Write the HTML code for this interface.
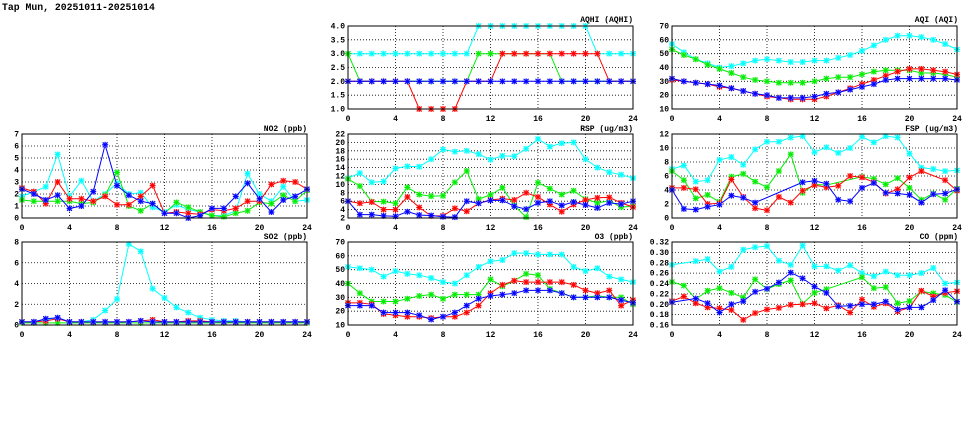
<!DOCTYPE html>
<html><head><meta charset="utf-8">
<style>
html,body{margin:0;padding:0;background:#fff;}
svg{display:block;}
text{font-family:"Liberation Mono",monospace;font-weight:bold;font-size:8px;fill:#000;}
</style></head>
<body>
<svg id="s" width="975" height="447" viewBox="0 0 975 447" xmlns="http://www.w3.org/2000/svg">
<rect width="975" height="447" fill="#fff"/>
<text x="2" y="10" style="font-size:9.8px">Tap Mun, 20251011-20251014</text>
<g id="g"></g>
<text x="633" y="22" text-anchor="end">AQHI (AQHI)</text>
<text x="958" y="22" text-anchor="end">AQI (AQI)</text>
<text x="307" y="131" text-anchor="end">NO2 (ppb)</text>
<text x="633" y="131" text-anchor="end">RSP (ug/m3)</text>
<text x="958" y="131" text-anchor="end">FSP (ug/m3)</text>
<text x="307" y="239" text-anchor="end">SO2 (ppb)</text>
<text x="633" y="239" text-anchor="end">O3 (ppb)</text>
<text x="958" y="239" text-anchor="end">CO (ppm)</text>
<g text-anchor="middle">
<text x="348" y="121">0</text><text x="395.5" y="121">4</text><text x="443" y="121">8</text><text x="490.5" y="121">12</text><text x="538" y="121">16</text><text x="585.5" y="121">20</text><text x="633" y="121">24</text>
<text x="672" y="121">0</text><text x="719.5" y="121">4</text><text x="767" y="121">8</text><text x="814.5" y="121">12</text><text x="862" y="121">16</text><text x="909.5" y="121">20</text><text x="957" y="121">24</text>
<text x="22" y="230">0</text><text x="69.5" y="230">4</text><text x="117" y="230">8</text><text x="164.5" y="230">12</text><text x="212" y="230">16</text><text x="259.5" y="230">20</text><text x="307" y="230">24</text>
<text x="348" y="230">0</text><text x="395.5" y="230">4</text><text x="443" y="230">8</text><text x="490.5" y="230">12</text><text x="538" y="230">16</text><text x="585.5" y="230">20</text><text x="633" y="230">24</text>
<text x="672" y="230">0</text><text x="719.5" y="230">4</text><text x="767" y="230">8</text><text x="814.5" y="230">12</text><text x="862" y="230">16</text><text x="909.5" y="230">20</text><text x="957" y="230">24</text>
<text x="22" y="337">0</text><text x="69.5" y="337">4</text><text x="117" y="337">8</text><text x="164.5" y="337">12</text><text x="212" y="337">16</text><text x="259.5" y="337">20</text><text x="307" y="337">24</text>
<text x="348" y="337">0</text><text x="395.5" y="337">4</text><text x="443" y="337">8</text><text x="490.5" y="337">12</text><text x="538" y="337">16</text><text x="585.5" y="337">20</text><text x="633" y="337">24</text>
<text x="672" y="337">0</text><text x="719.5" y="337">4</text><text x="767" y="337">8</text><text x="814.5" y="337">12</text><text x="862" y="337">16</text><text x="909.5" y="337">20</text><text x="957" y="337">24</text>
</g>
<g text-anchor="end">
<text x="345" y="28.5">4.0</text><text x="345" y="42.3">3.5</text><text x="345" y="56.2">3.0</text><text x="345" y="70">2.5</text><text x="345" y="83.8">2.0</text><text x="345" y="97.7">1.5</text><text x="345" y="111.5">1.0</text>
<text x="669" y="28.5">70</text><text x="669" y="42.3">60</text><text x="669" y="56.2">50</text><text x="669" y="70">40</text><text x="669" y="83.8">30</text><text x="669" y="97.7">20</text><text x="669" y="111.5">10</text>
<text x="19" y="136.5">7</text><text x="19" y="148.5">6</text><text x="19" y="160.5">5</text><text x="19" y="172.5">4</text><text x="19" y="184.5">3</text><text x="19" y="196.5">2</text><text x="19" y="208.5">1</text><text x="19" y="220.5">0</text>
<text x="345" y="136.5">22</text><text x="345" y="144.9">20</text><text x="345" y="153.3">18</text><text x="345" y="161.7">16</text><text x="345" y="170.1">14</text><text x="345" y="178.5">12</text><text x="345" y="186.9">10</text><text x="345" y="195.3">8</text><text x="345" y="203.7">6</text><text x="345" y="212.1">4</text><text x="345" y="220.5">2</text>
<text x="669" y="136.5">12</text><text x="669" y="150.5">10</text><text x="669" y="164.5">8</text><text x="669" y="178.5">6</text><text x="669" y="192.5">4</text><text x="669" y="206.5">2</text><text x="669" y="220.5">0</text>
<text x="19" y="244.5">8</text><text x="19" y="265.3">6</text><text x="19" y="286">4</text><text x="19" y="306.8">2</text><text x="19" y="327.5">0</text>
<text x="345" y="244.5">70</text><text x="345" y="258.3">60</text><text x="345" y="272.2">50</text><text x="345" y="286">40</text><text x="345" y="299.8">30</text><text x="345" y="313.7">20</text><text x="345" y="327.5">10</text>
<text x="669" y="244.5">0.32</text><text x="669" y="254.9">0.30</text><text x="669" y="265.3">0.28</text><text x="669" y="275.6">0.26</text><text x="669" y="286">0.24</text><text x="669" y="296.4">0.22</text><text x="669" y="306.8">0.20</text><text x="669" y="317.1">0.18</text><text x="669" y="327.5">0.16</text>
</g>
</svg>
<script>
var N=null;
var P=[
{x:348,y:26,h:83,min:1,max:4,step:0.5,d:[
[3,3,3,3,3,3,3,3,3,3,3,4,4,4,4,4,4,4,4,4,4,3,3,3,3],
[3,2,2,2,2,2,2,2,2,2,2,3,3,3,3,3,3,3,2,2,2,2,2,2,2],
[2,2,2,2,2,2,1,1,1,1,2,2,2,3,3,3,3,3,3,3,3,3,2,2,2],
[2,2,2,2,2,2,2,2,2,2,2,2,2,2,2,2,2,2,2,2,2,2,2,2,2]]},
{x:672,y:26,h:83,min:10,max:70,step:10,d:[
[57,51,46,43,40,41,43,45,46,45,44,44,45,45,47,49,52,56,60,63,63,62,60,57,53],
[53,49,46,42,39,36,33,31,30,29,29,29,30,32,33,33,35,37,38,38,38,36,36,35,33],
[31,30,29,28,26,25,23,21,19,18,17,17,17,19,22,25,28,31,34,37,39,39,38,37,35],
[32,30,29,28,27,25,23,21,20,18,18,18,19,21,22,24,26,28,31,32,32,32,32,32,31]]},
{x:22,y:134,h:84,min:0,max:7,step:1,d:[
[1.8,2.2,2.6,5.3,1.8,3.1,1.4,2.0,2.9,2.0,2.1,0.9,0.5,1.1,0.7,0.5,0.2,0.2,0.6,3.7,2.0,1.4,2.6,1.4,1.5],
[1.5,1.4,1.4,1.4,1.4,1.2,1.3,1.9,3.8,1.0,0.6,1.2,0.4,1.3,0.9,0.5,0.2,0.1,0.4,0.6,1.3,1.2,1.9,1.4,2.3],
[2.5,2.2,1.2,3.0,1.6,1.6,1.4,1.8,1.1,1.1,1.8,2.7,0.4,0.5,0.4,0.3,0.7,0.6,0.8,1.4,1.4,2.8,3.1,3.0,2.4],
[2.4,2.0,1.5,1.9,0.8,1.0,2.2,6.1,2.7,1.9,1.4,1.2,0.4,0.4,0.0,0.2,0.8,0.8,1.8,2.9,1.6,0.5,1.5,1.8,2.4]]},
{x:348,y:134,h:84,min:2,max:22,step:2,d:[
[11.5,12.7,10.5,10.7,13.8,14.3,14.2,16,18.3,17.8,18,17.2,15.9,16.8,16.7,18.5,20.8,19,19.8,20,16,14,12.9,12.3,11.5],
[11.3,9.6,5.9,5.9,5.5,9.3,7.6,7.2,7.3,10.5,13.2,6.5,7.5,9.2,5.0,2.2,10.4,9.0,7.6,8.5,6.5,5.6,6.1,4.6,4.8],
[6,5.5,5.8,4,4,7,4.5,2.5,2.5,4.3,3.6,5.5,6.3,6.6,6.3,8,7,5.2,3.5,5.2,6.3,6.8,6.9,5.6,4.6],
[6,2.8,2.8,2.5,2.4,3.5,2.7,2.6,2.3,2.2,6,5.5,6.2,6.2,4.8,4.1,5.6,6,5,5.8,5.1,4.4,5.6,5.3,6]]},
{x:672,y:134,h:84,min:0,max:12,step:2,d:[
[7,7.5,5.2,5.4,8.3,8.7,7.6,9.8,10.9,10.9,11.5,11.7,9.4,10.1,9.3,10,11.6,10.8,11.7,11.5,9.2,7.2,7,6.7,6.8],
[6.7,5.4,2.8,3.3,2.3,5.9,6.3,5.2,4.4,6.7,9.1,3.6,4.8,4.7,N,N,5.9,5.6,4.8,5.7,4.3,2.6,3.5,2.6,4.2],
[4.3,4.3,4.1,2,2.1,5.5,3,1.4,1.1,3,2.2,3.9,4.7,4.4,4.6,6,5.8,5.1,3.5,4.1,5.8,6.7,N,5.4,3.9],
[4,1.3,1.2,1.6,1.9,3.2,2.9,2.2,N,N,N,5.1,5.3,4.9,2.6,2.4,4.3,5,3.6,3.5,3.3,2.2,3.4,3.5,4.1]]},
{x:22,y:242,h:83,min:0,max:8,step:2,d:[
[0.3,0.3,0.5,0.7,0.3,0.3,0.5,1.4,2.5,7.8,7.1,3.5,2.6,1.7,1.2,0.7,0.5,0.4,0.4,0.3,0.3,0.3,0.3,0.3,0.3],
[0.2,0.2,0.2,0.2,0.2,0.2,0.2,0.2,0.2,0.2,0.2,0.2,0.2,0.2,0.2,0.2,0.2,0.2,0.2,0.2,0.2,0.2,0.2,0.2,0.2],
[0.3,0.3,0.4,0.6,0.3,0.3,0.3,0.3,0.3,0.3,0.4,0.5,0.3,0.3,0.4,0.4,0.3,0.3,0.3,0.3,0.3,0.3,0.3,0.3,0.3],
[0.3,0.3,0.6,0.7,0.3,0.3,0.3,0.3,0.3,0.3,0.4,0.3,0.3,0.3,0.3,0.3,0.3,0.3,0.3,0.3,0.3,0.3,0.3,0.3,0.3]]},
{x:348,y:242,h:83,min:10,max:70,step:10,d:[
[52,51,50,45,49,47,46,44,41,40,46,52,56,57,62,62,61,61,61,52,49,51,45,43,41],
[40,33,27,27,27,29,31,32,29,32,32,32,43,38,42,47,46,36,33,30,30,31,30,30,25],
[26,26,25,18,17,16,16,15,16,16,19,24,33,39,42,41,41,41,41,39,35,33,35,24,28],
[24,24,24,19,19,19,17,14,16,19,24,29,31,32,33,35,35,35,33,30,30,30,30,28,26]]},
{x:672,y:242,h:83,min:0.16,max:0.32,step:0.02,d:[
[0.276,N,0.283,0.287,0.263,0.272,0.305,0.310,0.312,0.284,0.276,0.313,0.273,0.273,0.265,0.275,0.260,0.254,0.263,0.256,0.256,0.260,0.270,0.240,0.242],
[0.243,0.236,0.210,0.226,0.231,0.222,0.213,0.248,0.229,0.239,0.246,0.201,0.222,0.229,N,N,0.252,0.231,0.233,0.202,0.206,0.225,0.221,0.218,0.204],
[0.206,0.215,0.202,0.194,0.192,0.189,0.170,0.183,0.190,0.193,0.199,0.200,0.202,0.192,0.198,0.184,0.209,0.195,0.202,0.186,0.194,0.226,0.215,0.222,0.225],
[0.204,N,0.211,0.202,0.184,0.200,0.206,0.224,0.230,0.242,0.261,0.250,0.234,0.222,0.196,0.197,0.200,0.200,0.205,0.190,0.194,0.194,0.208,0.227,0.205]]}
];
var C=["#00ffff","#00ee00","#ff0000","#0000ff"],H=["#a0ffff","#a0f0a0","#ffa0a0","#a0a0ff"];
var s="",W=285;
P.forEach(function(p){
  var n=Math.round((p.max-p.min)/p.step);
  for(var i=1;i<n;i++){var y=p.y+p.h*i/n;s+='<line x1="'+p.x+'" x2="'+(p.x+W)+'" y1="'+y+'" y2="'+y+'" stroke="#000" stroke-width="0.8" stroke-dasharray="1,2"/>';}
  for(var i=1;i<6;i++){var x=p.x+W*i/6;s+='<line x1="'+x+'" x2="'+x+'" y1="'+p.y+'" y2="'+(p.y+p.h)+'" stroke="#000" stroke-width="0.8" stroke-dasharray="1,2"/>';}
  function X(i){return p.x+W*i/24;} function Y(v){return p.y+p.h*(p.max-v)/(p.max-p.min);}
  p.d.forEach(function(a,k){
    var pts=[];a.forEach(function(v,i){if(v!==null)pts.push(X(i).toFixed(1)+','+Y(v).toFixed(1));});
    s+='<polyline fill="none" stroke="'+C[k]+'" stroke-width="1" points="'+pts.join(' ')+'"/>';
    a.forEach(function(v,i){if(v===null)return;var x=X(i),y=Y(v);
      s+='<rect x="'+(x-2.5)+'" y="'+(y-2.5)+'" width="5" height="5" fill="'+H[k]+'"/>';
      s+='<path d="M'+(x-2.5)+' '+(y-2.5)+'L'+(x+2.5)+' '+(y+2.5)+'M'+(x-2.5)+' '+(y+2.5)+'L'+(x+2.5)+' '+(y-2.5)+'M'+(x-3)+' '+y+'L'+(x+3)+' '+y+'M'+x+' '+(y-3)+'L'+x+' '+(y+3)+'" stroke="'+C[k]+'" stroke-width="1"/>';});
  });
  s+='<rect x="'+p.x+'" y="'+p.y+'" width="'+W+'" height="'+p.h+'" fill="none" stroke="#000" stroke-width="1"/>';
});
document.getElementById("g").innerHTML=s;
</script>
</body></html>
